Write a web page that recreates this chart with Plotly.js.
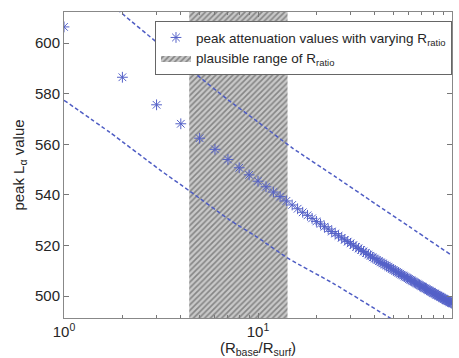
<!DOCTYPE html>
<html>
<head>
<meta charset="utf-8">
<script src="https://cdn.plot.ly/plotly-3.0.1.min.js"></script>
<style>
  html, body { margin: 0; padding: 0; background: #ffffff; }
  #chart { width: 459px; height: 358px; }
</style>
</head>
<body>
<div id="chart"></div>
<script>
// R_base / R_surf ratios that were evaluated
const ratio = [
  1, 2, 3, 4, 5, 6, 7, 8, 9, 10,
  11, 12, 13, 14, 15, 16, 17, 18, 19, 20,
  21, 22, 23, 24, 25, 26, 27, 28, 29, 30,
  31, 32, 33, 34, 35, 36, 37, 38, 39, 40,
  41, 42, 43, 44, 45, 46, 47, 48, 49, 50,
  51, 52, 53, 54, 55, 56, 57, 58, 59, 60,
  61, 62, 63, 64, 65, 66, 67, 68, 69, 70,
  71, 72, 73, 74, 75, 76, 77, 78, 79, 80,
  81, 82, 83, 84, 85, 86, 87, 88, 89, 90,
  91, 92, 93, 94, 95, 96, 97, 98, 99, 100
];

// peak L_alpha value obtained for each ratio
const peakValue = [
  606.4, 586.5, 575.6, 568.1, 562.4, 558.0, 554.0, 550.7, 547.9, 545.4,
  543.2, 541.1, 539.3, 537.6, 536.0, 534.5, 533.1, 531.9, 530.7, 529.5,
  528.5, 527.4, 526.5, 525.5, 524.7, 523.8, 523.0, 522.2, 521.5, 520.8,
  520.1, 519.4, 518.8, 518.2, 517.6, 517.0, 516.4, 515.9, 515.3, 514.8,
  514.3, 513.8, 513.3, 512.9, 512.4, 512.0, 511.5, 511.1, 510.7, 510.3,
  509.9, 509.5, 509.2, 508.8, 508.4, 508.1, 507.7, 507.4, 507.1, 506.7,
  506.4, 506.1, 505.8, 505.5, 505.2, 504.9, 504.6, 504.3, 504.0, 503.8,
  503.5, 503.2, 503.0, 502.7, 502.4, 502.2, 501.9, 501.7, 501.5, 501.2,
  501.0, 500.8, 500.5, 500.3, 500.1, 499.9, 499.7, 499.5, 499.2, 499.0,
  498.8, 498.6, 498.4, 498.2, 498.0, 497.9, 497.7, 497.5, 497.3, 497.1
];

// upper and lower bounding curves (dashed)
const upperX = [1, 2, 3, 4.5, 7, 10, 15, 25, 40, 60, 100];
const upperY = [632.2, 611.6, 600.4, 589.4, 577.6, 568.8, 558.6, 547.2, 536.6, 527.5, 516.0];
const lowerX = [1, 1.73, 3.13, 4.46, 7.17, 9.84, 14.3, 24.4, 45.2, 100];
const lowerY = [577.4, 564.6, 549.8, 541.4, 530.0, 523.4, 514.9, 505.0, 492.5, 476.5];

// plausible span of the ratio
const plausibleRange = [4.42, 14.2];

// axis extents and tick labels
const xRange = [1, 100];
const yRange = [491.3, 612.3];
const xTickVals = [1, 10, 100];
const xTickText = ['10<sup>0</sup>', '10<sup>1</sup>', '10<sup>2</sup>'];
const xMinorVals = [2, 3, 4, 5, 6, 7, 8, 9, 20, 30, 40, 50, 60, 70, 80, 90];
const yTickVals = [500, 520, 540, 560, 580, 600];

const markColor = '#5461c8';
const lineColor = '#4f5dc4';
const textColor = '#262626';
const font = 'Liberation Sans, Arial, Helvetica, sans-serif';

const traces = [
  {
    type: 'scatter',
    mode: 'lines',
    x: [plausibleRange[0], plausibleRange[1], plausibleRange[1], plausibleRange[0], plausibleRange[0]],
    y: [yRange[0], yRange[0], yRange[1], yRange[1], yRange[0]],
    fill: 'toself',
    fillcolor: '#b4b4b4',
    fillpattern: { shape: '/', size: 4, solidity: 0.4, fgcolor: '#858585', bgcolor: '#c9c9c9' },
    line: { width: 0, color: 'rgba(0,0,0,0)' },
    name: 'plausible range of R<sub>ratio</sub>',
    legendrank: 2,
    hoverinfo: 'skip'
  },
  {
    type: 'scatter',
    mode: 'lines',
    x: upperX,
    y: upperY,
    line: { color: lineColor, width: 1.5, dash: '4px,2.5px', shape: 'spline', smoothing: 0.6 },
    showlegend: false
  },
  {
    type: 'scatter',
    mode: 'lines',
    x: lowerX,
    y: lowerY,
    line: { color: lineColor, width: 1.5, dash: '4px,2.5px', shape: 'spline', smoothing: 0.6 },
    showlegend: false
  },
  {
    type: 'scatter',
    mode: 'markers',
    x: ratio,
    y: peakValue,
    marker: { symbol: 'asterisk-open', size: 9, color: markColor, line: { color: markColor, width: 1 } },
    name: 'peak attenuation values with varying R<sub>ratio</sub>',
    legendrank: 1
  }
];

const layout = {
  width: 459,
  height: 358,
  margin: { l: 64, r: 7, t: 12, b: 40 },
  paper_bgcolor: '#ffffff',
  plot_bgcolor: '#ffffff',
  font: { family: font, size: 15, color: textColor },
  showlegend: true,
  legend: {
    x: 0.2345, y: 0.97, xanchor: 'left', yanchor: 'top',
    bgcolor: '#ffffff', bordercolor: '#666666', borderwidth: 1,
    font: { family: font, size: 13.5, color: textColor },
    traceorder: 'normal'
  },
  xaxis: {
    type: 'log',
    range: [Math.log10(xRange[0]), Math.log10(xRange[1])],
    tickvals: xTickVals,
    ticktext: xTickText,
    ticks: 'inside', ticklen: 5, tickcolor: '#777777',
    minor: { tickvals: xMinorVals, ticks: 'inside', ticklen: 3, tickcolor: '#777777' },
    showline: true, linecolor: '#888888', linewidth: 1, mirror: 'ticks',
    showgrid: false, zeroline: false,
    tickfont: { family: font, size: 15, color: textColor },
    title: { text: '(R<sub>base</sub>/R<sub>surf</sub>)', font: { family: font, size: 15, color: textColor }, standoff: 2 }
  },
  yaxis: {
    range: yRange,
    tickvals: yTickVals,
    ticks: 'inside', ticklen: 5, tickcolor: '#777777',
    showline: true, linecolor: '#888888', linewidth: 1, mirror: 'ticks',
    showgrid: false, zeroline: false,
    tickfont: { family: font, size: 15, color: textColor },
    title: { text: 'peak L<sub>α</sub> value', font: { family: font, size: 15, color: textColor }, standoff: 6 }
  }
};

Plotly.newPlot('chart', traces, layout, { staticPlot: true, displayModeBar: false });
</script>
</body>
</html>
